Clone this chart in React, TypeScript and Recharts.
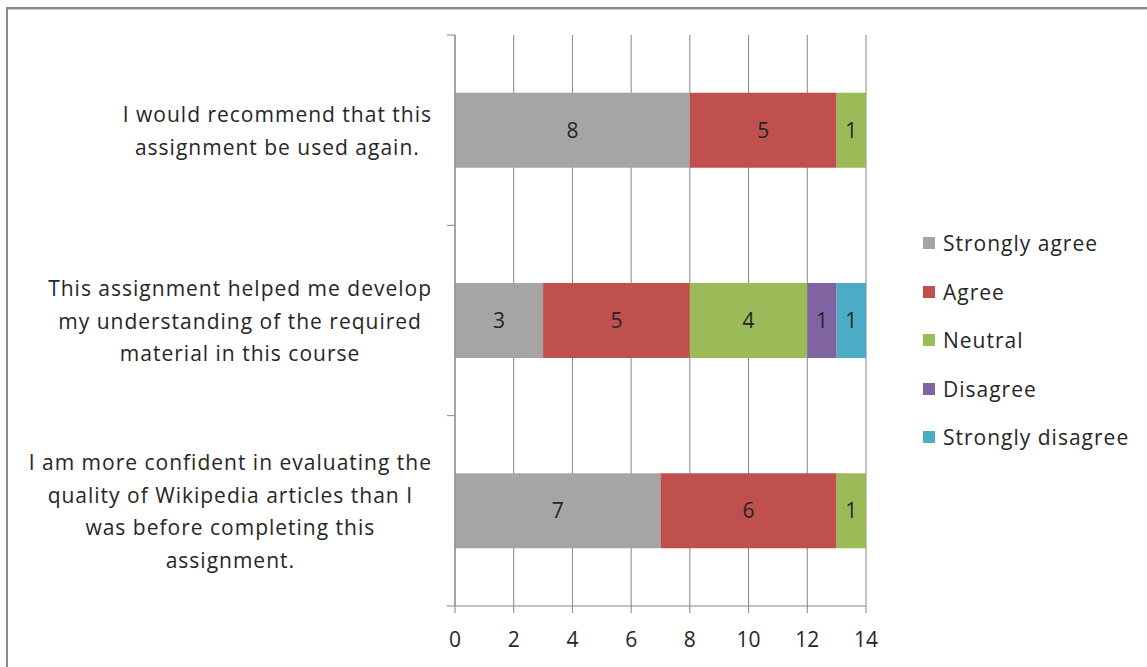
import React from "react";
import { BarChart, Bar, XAxis, YAxis, CartesianGrid, Legend, LabelList } from "recharts";

const categories = [
  "I would recommend that this|assignment be used again.",
  "This assignment helped me develop|my understanding of the required|material in this course",
  "I am more confident in evaluating the|quality of Wikipedia articles than I|was before completing this|assignment.",
];
const stronglyAgree = [8, 3, 7];
const agree = [5, 5, 6];
const neutral = [1, 4, 1];
const disagree = [0, 1, 0];
const stronglyDisagree = [0, 1, 0];
const xTicks = [0, 2, 4, 6, 8, 10, 12, 14];

const seriesNames = ["Strongly agree", "Agree", "Neutral", "Disagree", "Strongly disagree"];
const seriesKeys = ["sa", "a", "n", "d", "sd"];
const colors = ["#A5A5A5", "#C0504D", "#9BBB59", "#8064A2", "#4BACC6"];

const data = categories.map((c, i) => ({
  name: c,
  sa: stronglyAgree[i],
  a: agree[i],
  n: neutral[i],
  d: disagree[i],
  sd: stronglyDisagree[i],
}));

const W = 1147;
const H = 667;
const PLOT_LEFT = 455;
const PLOT_RIGHT = 866;
const PLOT_TOP = 35;
const PLOT_BOTTOM = 606;
const BAND = (PLOT_BOTTOM - PLOT_TOP) / categories.length;
const FONT = "'Open Sans', sans-serif";
const LABEL_SIZE = 21;
const SPACING = 1;
const TEXT = "#262626";
const AXIS = "#868686";

let ctx: CanvasRenderingContext2D | null = null;
function measure(s: string) {
  if (!ctx) {
    const c = document.createElement("canvas");
    ctx = c.getContext("2d");
  }
  if (!ctx) return s.length * 11;
  ctx.font = `${LABEL_SIZE}px 'Open Sans'`;
  return ctx.measureText(s).width + s.length * SPACING;
}

const CatTick = (props: any) => {
  const { y, payload, index } = props;
  const axisX = PLOT_LEFT;
  const lines = String(payload.value).split("|");
  const maxW = Math.max(...lines.map(measure));
  const right = axisX - 23;
  const cx = right - maxW / 2;
  const lh = 32.5;
  const startY = y + 1 - ((lines.length - 1) * lh) / 2;
  return (
    <g>
      <line x1={axisX - 8} x2={axisX} y1={y - BAND / 2} y2={y - BAND / 2} stroke={AXIS} />
      {index === categories.length - 1 && (
        <line x1={axisX - 8} x2={axisX} y1={y + BAND / 2} y2={y + BAND / 2} stroke={AXIS} />
      )}
      {lines.map((l, i) => (
        <text
          key={i}
          x={cx}
          y={startY + i * lh}
          dy="0.35em"
          textAnchor="middle"
          fill={TEXT}
          fontSize={LABEL_SIZE}
          fontFamily={FONT}
          letterSpacing={SPACING}
        >
          {l}
        </text>
      ))}
    </g>
  );
};

const LegendContent = () => (
  <div style={{ fontFamily: FONT, fontSize: LABEL_SIZE, color: TEXT, letterSpacing: SPACING }}>
    {seriesNames.map((n, i) => (
      <div key={n} style={{ display: "flex", alignItems: "center", height: 48.5, whiteSpace: "nowrap" }}>
        <span style={{ display: "inline-block", width: 12, height: 12, background: colors[i], marginRight: 8 }} />
        <span>{n}</span>
      </div>
    ))}
  </div>
);

const fmt = (v: any) => (v ? String(v) : "");

export default function App() {
  return (
    <div style={{ position: "absolute", left: 0, top: 0, width: W, height: H, background: "#fff", overflow: "hidden" }}>
      <div style={{ position: "absolute", left: 6, top: 7, right: -10, bottom: -10, borderTop: "2px solid #8a8a8a", borderLeft: "2px solid #8a8a8a" }} />
      <div style={{ position: "absolute", left: 8, top: 9, right: -10, height: 1, background: "#cfcfcf" }} />
      <div style={{ position: "absolute", left: 0, top: 0 }}>
        <BarChart
          width={W}
          height={H}
          data={data}
          layout="vertical"
          margin={{ top: PLOT_TOP, right: W - PLOT_RIGHT, bottom: 0, left: 0 }}
          barCategoryGap="30.3%"
        >
          <CartesianGrid horizontal={false} vertical={true} stroke={AXIS} strokeDasharray="" />
          <XAxis
            type="number"
            domain={[0, 14]}
            ticks={xTicks}
            interval={0}
            height={H - PLOT_BOTTOM}
            stroke={AXIS}
            tickSize={7}
            tickMargin={19}
            tick={{ fill: TEXT, fontSize: LABEL_SIZE, fontFamily: FONT }}
          />
          <YAxis
            type="category"
            dataKey="name"
            width={PLOT_LEFT}
            stroke={AXIS}
            tickLine={false}
            tick={<CatTick />}
            interval={0}
          />
          <Legend
            layout="vertical"
            align="center"
            verticalAlign="middle"
            content={<LegendContent />}
            wrapperStyle={{ left: 923, top: 219, width: 224 }}
          />
          {seriesKeys.map((k, i) => (
            <Bar key={k} dataKey={k} name={seriesNames[i]} stackId="s" fill={colors[i]} isAnimationActive={false}>
              <LabelList dataKey={k} position="center" formatter={fmt} fill={TEXT} fontSize={LABEL_SIZE} fontFamily={FONT} />
            </Bar>
          ))}
        </BarChart>
      </div>
    </div>
  );
}
